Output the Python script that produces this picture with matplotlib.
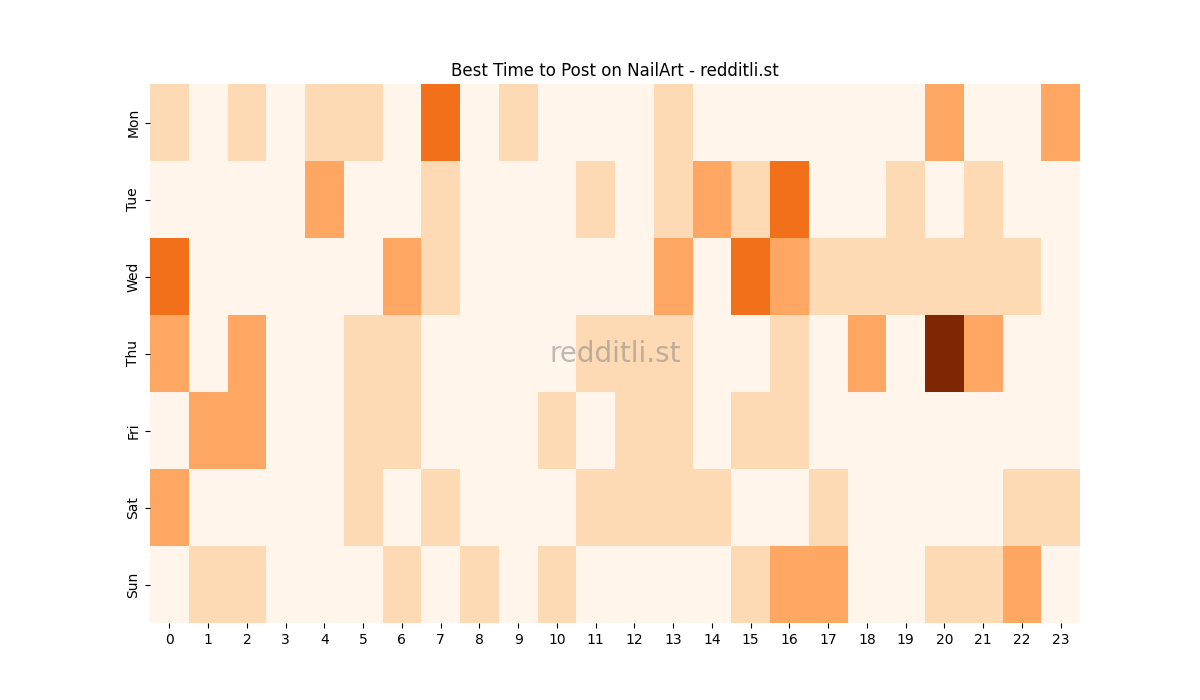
import matplotlib
matplotlib.use("Agg")
import matplotlib.pyplot as plt
import seaborn as sns
import numpy as np

days = ["Mon", "Tue", "Wed", "Thu", "Fri", "Sat", "Sun"]
hours = [str(h) for h in range(24)]

mon = [1,0,1,0,1,1,0,3,0,1,0,0,0,1,0,0,0,0,0,0,2,0,0,2]
tue = [0,0,0,0,2,0,0,1,0,0,0,1,0,1,2,1,3,0,0,1,0,1,0,0]
wed = [3,0,0,0,0,0,2,1,0,0,0,0,0,2,0,3,2,1,1,1,1,1,1,0]
thu = [2,0,2,0,0,1,1,0,0,0,0,1,1,1,0,0,1,0,2,0,5,2,0,0]
fri = [0,2,2,0,0,1,1,0,0,0,1,0,1,1,0,1,1,0,0,0,0,0,0,0]
sat = [2,0,0,0,0,1,0,1,0,0,0,1,1,1,1,0,0,1,0,0,0,0,1,1]
sun = [0,1,1,0,0,0,1,0,1,0,1,0,0,0,0,1,2,2,0,0,1,1,2,0]

data = np.array([mon, tue, wed, thu, fri, sat, sun])

fig, ax = plt.subplots(figsize=(12, 7), dpi=100)
sns.heatmap(data, cmap="Oranges", cbar=False, ax=ax,
            xticklabels=hours, yticklabels=days)
ax.set_title("Best Time to Post on NailArt - redditli.st")
ax.text(0.5, 0.5, "redditli.st", transform=ax.transAxes, fontsize=20,
        color="grey", alpha=0.5, ha="center", va="center")
fig.savefig("out.png", dpi=100)
